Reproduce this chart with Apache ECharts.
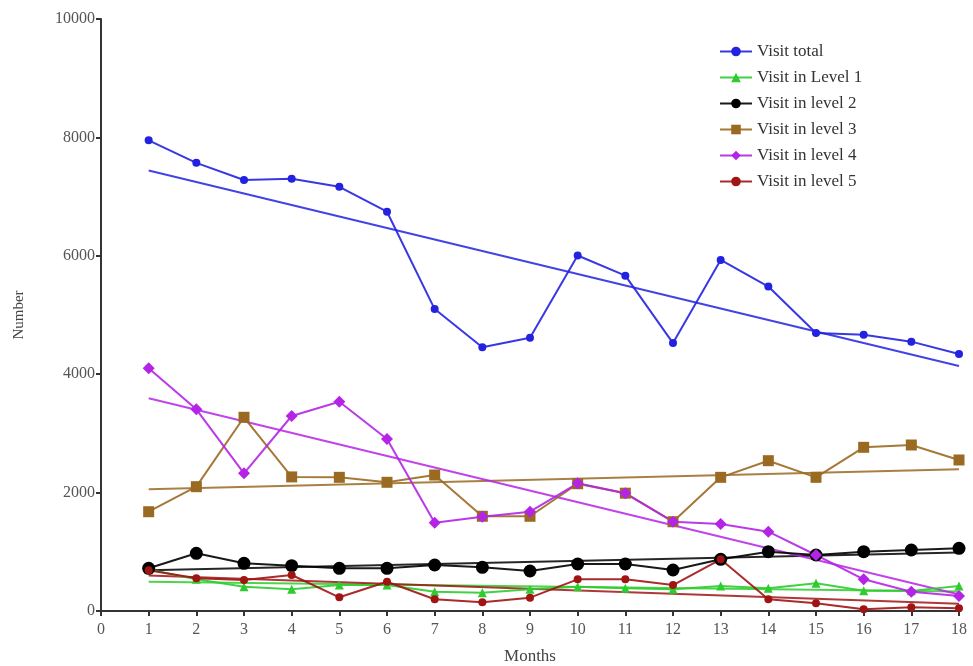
<!DOCTYPE html>
<html>
<head>
<meta charset="utf-8">
<script src="https://cdn.jsdelivr.net/npm/echarts@6/dist/echarts.min.js"></script>
<style>html,body{margin:0;padding:0;background:#fff}#c{width:973px;height:666px}</style>
</head>
<body>
<div id="c"></div>
<script>
var months = [1,2,3,4,5,6,7,8,9,10,11,12,13,14,15,16,17,18];
var seriesNames = ['Visit total','Visit in Level 1','Visit in level 2','Visit in level 3','Visit in level 4','Visit in level 5'];
var visitTotal = [7950,7570,7280,7300,7165,6745,5100,4455,4615,6005,5665,4525,5930,5480,4695,4665,4550,4340];
var visitL1 = [700,535,411,367,440,439,326,309,367,411,383,367,422,383,468,343,340,422];
var visitL2 = [721,975,806,766,721,721,777,738,676,794,794,693,873,1002,946,1002,1030,1059];
var visitL3 = [1677,2100,3272,2265,2258,2174,2297,1600,1600,2150,1990,1508,2258,2539,2258,2765,2804,2551];
var visitL4 = [4100,3407,2326,3294,3536,2905,1492,1593,1677,2157,1988,1508,1470,1340,946,535,326,253];
var visitL5 = [690,552,524,608,231,495,198,147,225,535,535,439,873,198,130,29,62,46];
// fitted trend lines (value at month 1 and at month 18)
var trendStart = [7440,495,690,2056,3593,600];
var trendEnd = [4140,330,990,2394,280,124];
var yTicks = [0,2000,4000,6000,8000,10000];

var allData = [visitTotal,visitL1,visitL2,visitL3,visitL4,visitL5];
var colors = ['#2222e0','#2ecc2e','#000000','#9a6a22','#b523e6','#a01414'];
var symbols = ['circle','triangle','circle','rect','diamond','circle'];
var sizes = [8,9,13,11,12,8];

var series = [];
for (var i = 0; i < 6; i++) {
  series.push({
    name: seriesNames[i] + ' trend',
    type: 'line',
    data: [[months[0], trendStart[i]], [months[months.length-1], trendEnd[i]]],
    showSymbol: false,
    symbol: 'none',
    lineStyle: {color: colors[i], width: 2, opacity: 0.85},
    itemStyle: {color: colors[i]},
    z: 2,
    silent: true
  });
}
for (var i = 0; i < 6; i++) {
  series.push({
    name: seriesNames[i],
    type: 'line',
    data: months.map(function(m, k){ return [m, allData[i][k]]; }),
    symbol: symbols[i],
    symbolSize: sizes[i],
    lineStyle: {color: colors[i], width: 2, opacity: 0.9},
    itemStyle: {color: colors[i]},
    z: 3
  });
}

var chart = echarts.init(document.getElementById('c'));
chart.setOption({
  animation: false,
  backgroundColor: '#fff',
  textStyle: {fontFamily: 'Liberation Serif'},
  grid: {left: 101, right: 14, top: 19, bottom: 55, containLabel: false, outerBoundsMode: 'none'},
  legend: {
    data: seriesNames,
    orient: 'vertical',
    left: 714,
    top: 38,
    itemWidth: 32,
    itemHeight: 12,
    itemGap: 9,
    textStyle: {fontFamily: 'Liberation Serif', fontSize: 17, color: '#333'}
  },
  xAxis: {
    type: 'value',
    min: 0, max: 18, interval: 1,
    name: 'Months',
    nameLocation: 'middle',
    nameGap: 37,
    nameTextStyle: {fontFamily: 'Liberation Serif', fontSize: 17, color: '#444'},
    axisLine: {show: true, lineStyle: {color: '#333', width: 2}},
    axisTick: {show: true, length: 5, lineStyle: {color: '#333', width: 2}},
    axisLabel: {fontFamily: 'Liberation Serif', fontSize: 16, color: '#555', margin: 11},
    splitLine: {show: false}
  },
  yAxis: {
    type: 'value',
    min: 0, max: 10000, interval: 2000,
    name: 'Number',
    nameLocation: 'middle',
    nameGap: 74,
    nameRotate: 90,
    nameTextStyle: {fontFamily: 'Liberation Serif', fontSize: 15, color: '#444'},
    axisLine: {show: true, lineStyle: {color: '#333', width: 2}},
    axisTick: {show: true, length: 5, lineStyle: {color: '#333', width: 2}},
    axisLabel: {fontFamily: 'Liberation Serif', fontSize: 16, color: '#555', margin: 6,
      formatter: function(v){ return yTicks.indexOf(v) >= 0 ? String(v) : ''; }},
    splitLine: {show: false}
  },
  series: series
});
</script>
</body>
</html>
